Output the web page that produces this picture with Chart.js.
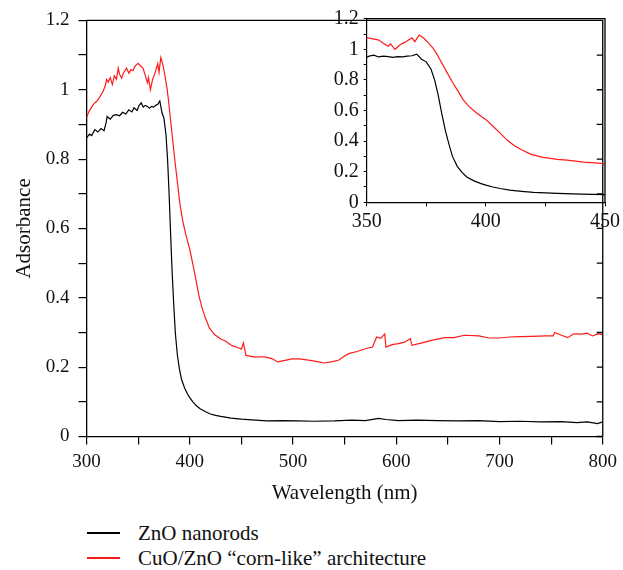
<!DOCTYPE html>
<html>
<head>
<meta charset="utf-8">
<script src="https://cdn.jsdelivr.net/npm/chart.js@4.4.0/dist/chart.umd.min.js"></script>
<style>
  body { margin: 0; background: #fff; }
  #wrap { position: relative; width: 623px; height: 570px; font-family: "Liberation Serif", serif; color: #111; }
  #main { position: absolute; left: 0; top: 0; }
  #inset { position: absolute; left: 300px; top: 0; }
  .leg { position: absolute; left: 87px; height: 24px; line-height: 24px; font-size: 21px; white-space: nowrap; }
  .leg .ln { position: absolute; left: 0; top: 11px; width: 33px; height: 1.5px; }
  .leg .tx { position: absolute; left: 51px; top: 0; }
</style>
</head>
<body>
<div id="wrap">
  <canvas id="main" width="623" height="510"></canvas>
  <canvas id="inset" width="323" height="240"></canvas>
  <div class="leg" style="top:521px"><span class="ln" style="background:#000"></span><span class="tx">ZnO nanorods</span></div>
  <div class="leg" style="top:546px"><span class="ln" style="background:#ff1a1a"></span><span class="tx">CuO/ZnO “corn-like” architecture</span></div>
</div>
<script>
// ZnO nanorods (black)
const znoWl = [300,303,305,308,311,314,317,319,320,323,
  326,329,332,335,338,341,344,346,349,351,
  353,355,357,359,361,363,365,367,369,371,
  373,375,377,378.5,380,381.5,383,384.5,386,388,
  390,392,395,398,400,403,406,410,415,420,
  425,430,440,450,460,475,490,505,520,540,
  557,570,583,590,602,620,640,660,680,700,
  720,740,760,775,785,795,800];
const znoAbs = [0.861,0.872,0.868,0.885,0.878,0.888,0.882,0.905,0.923,0.915,
  0.926,0.928,0.925,0.935,0.930,0.942,0.936,0.948,0.940,0.955,
  0.962,0.950,0.955,0.952,0.947,0.952,0.950,0.955,0.958,0.968,
  0.935,0.918,0.870,0.800,0.700,0.580,0.470,0.380,0.300,0.235,
  0.195,0.165,0.140,0.122,0.112,0.100,0.090,0.080,0.072,0.065,
  0.061,0.058,0.053,0.050,0.048,0.045,0.046,0.045,0.044,0.045,
  0.047,0.046,0.052,0.049,0.046,0.047,0.046,0.045,0.046,0.043,
  0.044,0.042,0.043,0.040,0.042,0.037,0.042];

// CuO/ZnO corn-like (red)
const cuoWl = [300,302,304,306,308,310,312,314,316,318,
  319.5,321,323,325,327,329,330.7,332,334,336,
  338.8,341,343,345,347,350,352,354.8,357,359,
  360,361.9,364,366,367.7,369,370.2,372,374,375.7,
  377.9,379,381,383.5,386,388,390.5,393,396,398,
  400,403,406,409,412,415,419,424,430,434,
  441,447,450,452,454.4,458,464,470,475,480,
  485,490,499,506,515,525,530,537,544,550,
  554,562,570,577,581,585,588.8,590,596,602,
  608,613.6,615.2,625,634,647,656,666,680,690,
  699,710,720,731,745,752,753.4,760,766,772,
  780,785,790,795,800];
const cuoAbs = [0.919,0.935,0.945,0.955,0.962,0.967,0.975,0.985,0.995,1.010,
  1.030,1.022,1.035,1.015,1.040,1.030,1.062,1.045,1.033,1.050,
  1.062,1.048,1.058,1.055,1.068,1.076,1.070,1.062,1.040,1.020,
  1.035,1.000,1.030,1.045,1.062,1.075,1.050,1.093,1.072,1.045,
  1.006,0.980,0.925,0.854,0.785,0.735,0.670,0.625,0.585,0.562,
  0.540,0.497,0.452,0.405,0.370,0.343,0.313,0.294,0.281,0.276,
  0.262,0.256,0.252,0.270,0.234,0.232,0.229,0.230,0.228,0.224,
  0.215,0.218,0.224,0.224,0.220,0.215,0.212,0.215,0.220,0.232,
  0.239,0.245,0.253,0.258,0.287,0.283,0.296,0.258,0.265,0.268,
  0.272,0.282,0.263,0.270,0.277,0.285,0.285,0.292,0.290,0.284,
  0.284,0.287,0.288,0.289,0.290,0.290,0.300,0.292,0.285,0.296,
  0.295,0.298,0.290,0.296,0.294];

// tick labels
const mainXLabels = [300, 400, 500, 600, 700, 800];
const insetXLabels = [350, 400, 450];
const yLabels = [0, 0.2, 0.4, 0.6, 0.8, 1, 1.2];

const toPts = (xs, ys) => xs.map((x, i) => ({ x: x, y: ys[i] }));
const hasLabel = (list, v) => list.some(l => Math.abs(l - v) < 1e-6);
const serif = '"Liberation Serif", serif';

// box top/right edges + inward ticks on the right side
const framePlugin = {
  id: 'frame',
  afterDraw(chart, args, opts) {
    const { ctx, chartArea: a, scales } = chart;
    ctx.save();
    ctx.strokeStyle = '#000';
    ctx.lineWidth = 1.3;
    ctx.beginPath();
    ctx.moveTo(a.left, a.top);
    ctx.lineTo(a.right, a.top);
    ctx.lineTo(a.right, a.bottom);
    if (opts.rightTicks) {
      scales.y.ticks.forEach(t => {
        const y = scales.y.getPixelForValue(t.value);
        ctx.moveTo(a.right, y);
        ctx.lineTo(a.right - opts.rightTicks, y);
      });
    }
    ctx.stroke();
    ctx.restore();
  }
};

function datasets() {
  return [
    { label: 'ZnO nanorods', data: toPts(znoWl, znoAbs), borderColor: '#000', borderWidth: 1.2, pointRadius: 0 },
    { label: 'CuO/ZnO corn-like', data: toPts(cuoWl, cuoAbs), borderColor: '#ff1a1a', borderWidth: 1.2, pointRadius: 0 }
  ];
}

new Chart(document.getElementById('main'), {
  type: 'line',
  data: { datasets: datasets() },
  plugins: [framePlugin],
  options: {
    responsive: false,
    animation: false,
    layout: { padding: { top: 18.7, right: 17.7, left: 0, bottom: 0 } },
    plugins: { legend: { display: false }, tooltip: { enabled: false }, frame: { rightTicks: 6 } },
    scales: {
      x: {
        type: 'linear', min: 300, max: 800,
        ticks: {
          stepSize: 50, autoSkip: false, maxRotation: 0, padding: 6,
          color: '#111', font: { family: serif, size: 19 },
          callback: v => hasLabel(mainXLabels, v) ? String(Math.round(v)) : ''
        },
        grid: { drawOnChartArea: false, tickLength: 8, color: '#000', lineWidth: 1.2 },
        border: { color: '#000', width: 1.3 },
        title: { display: true, text: 'Wavelength (nm)', color: '#111', font: { family: serif, size: 21 }, padding: { top: 0, bottom: 4 } },
        afterFit: s => { s.height = 73.5; }
      },
      y: {
        min: 0, max: 1.2,
        ticks: {
          stepSize: 0.1, autoSkip: false, padding: 9,
          color: '#111', font: { family: serif, size: 19 },
          callback: v => hasLabel(yLabels, v) ? String(+v.toFixed(1)) : ''
        },
        grid: { drawOnChartArea: false, tickLength: 8, color: '#000', lineWidth: 1.2 },
        border: { color: '#000', width: 1.3 },
        title: { display: true, text: 'Adsorbance', color: '#111', font: { family: serif, size: 21 }, padding: { top: 12, bottom: 0 } },
        afterFit: s => { s.width = 86.5; }
      }
    }
  }
});

new Chart(document.getElementById('inset'), {
  type: 'line',
  data: { datasets: datasets() },
  plugins: [framePlugin],
  options: {
    responsive: false,
    animation: false,
    layout: { padding: { top: 18.7, right: 17.7, left: 0, bottom: 0 } },
    plugins: { legend: { display: false }, tooltip: { enabled: false }, frame: {} },
    scales: {
      x: {
        type: 'linear', min: 350, max: 450,
        ticks: {
          stepSize: 25, autoSkip: false, maxRotation: 0, padding: 3,
          color: '#111', font: { family: serif, size: 20 },
          callback: v => hasLabel(insetXLabels, v) ? String(Math.round(v)) : ''
        },
        grid: { drawOnChartArea: false, tickLength: 4, color: '#000', lineWidth: 1 },
        border: { color: '#000', width: 1.2 },
        afterFit: s => { s.height = 37.7; }
      },
      y: {
        min: 0, max: 1.2,
        ticks: {
          stepSize: 0.1, autoSkip: false, padding: 5,
          color: '#111', font: { family: serif, size: 20 },
          callback: v => hasLabel(yLabels, v) ? String(+v.toFixed(1)) : ''
        },
        grid: { drawOnChartArea: false, tickLength: 3, color: '#000', lineWidth: 1 },
        border: { color: '#000', width: 1.2 },
        afterFit: s => { s.width = 66.7; }
      }
    }
  }
});
</script>
</body>
</html>
